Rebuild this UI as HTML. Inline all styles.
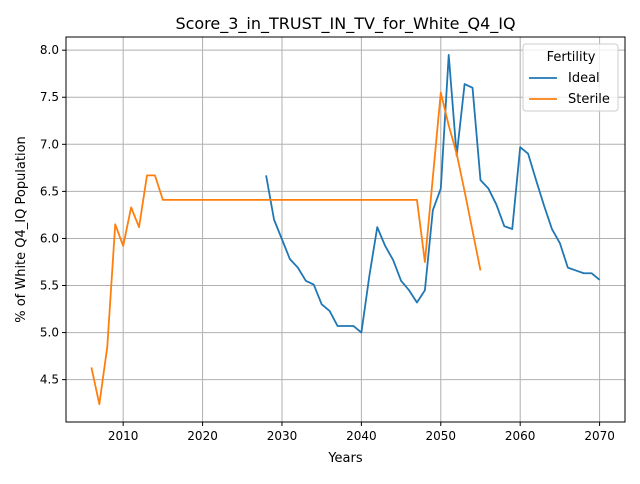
<!DOCTYPE html>
<html><head><meta charset="utf-8"><style>
body{margin:0;background:#fff;font-family:"DejaVu Sans","Liberation Sans",sans-serif}
</style></head><body>
<svg id="c" width="640" height="480" xmlns="http://www.w3.org/2000/svg" font-family="DejaVu Sans, Liberation Sans, sans-serif"></svg>
<script>
const idealYears=[2028,2029,2030,2031,2032,2033,2034,2035,2036,2037,2038,2039,2040,2041,2042,2043,2044,2045,2046,2047,2048,2049,2050,2051,2052,2053,2054,2055,2056,2057,2058,2059,2060,2061,2062,2063,2064,2065,2066,2067,2068,2069,2070];
const idealValues=[6.67,6.2,5.99,5.78,5.69,5.55,5.51,5.30,5.23,5.07,5.07,5.07,5.00,5.6,6.12,5.92,5.77,5.55,5.45,5.32,5.45,6.3,6.53,7.95,6.88,7.64,7.6,6.62,6.53,6.36,6.13,6.1,6.97,6.9,6.62,6.35,6.1,5.95,5.69,5.66,5.63,5.63,5.56];
const sterileYears=[2006,2007,2008,2009,2010,2011,2012,2013,2014,2015,2020,2025,2030,2035,2040,2045,2047,2048,2050,2051,2052,2053,2054,2055];
const sterileValues=[4.63,4.24,4.85,6.15,5.92,6.33,6.12,6.67,6.67,6.41,6.41,6.41,6.41,6.41,6.41,6.41,6.41,5.75,7.55,7.2,6.9,6.5,6.08,5.66];
const xTicks=[2010,2020,2030,2040,2050,2060,2070];
const yTicks=[4.5,5.0,5.5,6.0,6.5,7.0,7.5,8.0];
const L=66,R=625,T=37,B=422, X0=2002.8,X1=2073.2,Y0=4.05,Y1=8.14;
const sx=v=>L+(v-X0)/(X1-X0)*(R-L), sy=v=>B-(v-Y0)/(Y1-Y0)*(B-T);
const svg=document.getElementById('c');const NS='http://www.w3.org/2000/svg';
function mk(t,a,p){const e=document.createElementNS(NS,t);for(const k in a)e.setAttribute(k,a[k]);(p||svg).appendChild(e);return e;}
let e;
xTicks.forEach(v=>{const x=sx(v);
e=mk('line',{x1:x,x2:x,y1:T,y2:B,stroke:'#b0b0b0','stroke-width':1});


mk('line',{x1:x,x2:x,y1:B,y2:B+4,stroke:'#000'});
e=mk('text',{x:x,y:B+18,'text-anchor':'middle','font-size':12});e.textContent=v;

});
yTicks.forEach(v=>{const y=sy(v);
e=mk('line',{x1:L,x2:R,y1:y,y2:y,stroke:'#b0b0b0','stroke-width':1});


mk('line',{x1:L-4,x2:L,y1:y,y2:y,stroke:'#000'});
e=mk('text',{x:L-7,y:y+4,'text-anchor':'end','font-size':12});e.textContent=v.toFixed(1);

});
function line(xs,ys,col,name){e=mk('polyline',{points:xs.map((x,i)=>sx(x)+','+sy(ys[i])).join(' '),fill:'none',stroke:col,'stroke-width':1.8,'stroke-linejoin':'round'});

}
line(idealYears,idealValues,'#1f77b4','ideal-line');
line(sterileYears,sterileValues,'#ff7f0e','sterile-line');
e=mk('rect',{x:L,y:T,width:R-L,height:B-T,fill:'none',stroke:'#000','stroke-width':1});


e=mk('text',{x:(L+R)/2,y:29,'text-anchor':'middle','font-size':16});e.textContent='Score_3_in_TRUST_IN_TV_for_White_Q4_IQ';


e=mk('text',{x:(L+R)/2,y:462,'text-anchor':'middle','font-size':13});e.textContent='Years';


e=mk('text',{x:0,y:0,'text-anchor':'middle','font-size':13,transform:'translate(25,'+((T+B)/2)+') rotate(-90)'});e.textContent='% of White Q4_IQ Population';


const g=mk('g',{});


mk('rect',{x:523,y:44,width:95,height:67,rx:3,fill:'#fff','fill-opacity':0.8,stroke:'#ccc'},g);
e=mk('text',{x:571,y:61,'text-anchor':'middle','font-size':13},g);e.textContent='Fertility';
[['Ideal','#1f77b4',82],['Sterile','#ff7f0e',103]].forEach(([n,c,y])=>{
const le=mk('g',{},g);


mk('line',{x1:529,x2:557,y1:y-4,y2:y-4,stroke:c,'stroke-width':1.8},le);
const t=mk('text',{x:568,y:y,'font-size':13},le);t.textContent=n;});
</script>
</body></html>
